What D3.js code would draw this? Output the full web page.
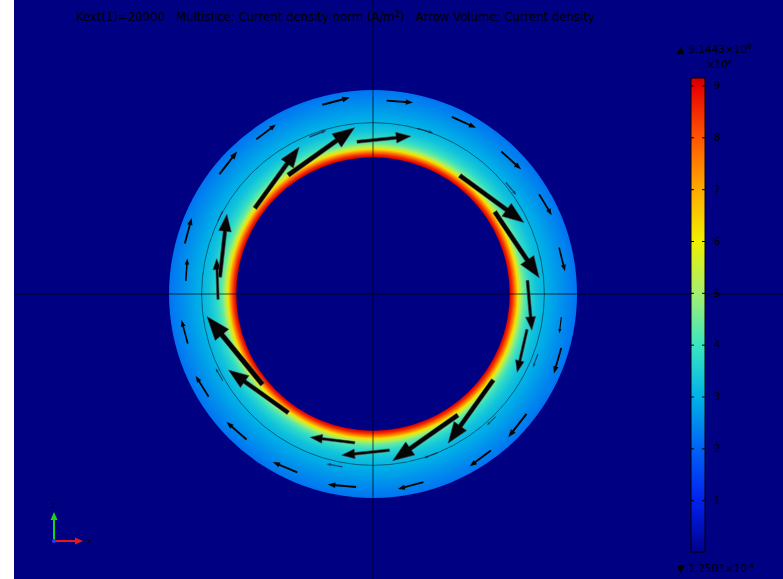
<!DOCTYPE html>
<html lang="en">
<head>
<meta charset="UTF-8">
<title>Current density</title>
<style>
  body { margin: 0; background: #fff; }
  svg text { font-family: "DejaVu Sans", "Liberation Sans", sans-serif; fill: #000; white-space: pre; }
</style>
</head>
<body>
<div id="chart"></div>
<script src="https://cdnjs.cloudflare.com/ajax/libs/d3/7.8.5/d3.min.js"></script>
<script>
// colour table, |J| in units of 1e8 A/m^2
const colorValues = [0, 1, 2, 3, 4, 5, 6, 7, 8, 9, 9.1443];
const colorStops = ["#00008c", "#0022f0", "#0064f5", "#00b4e6", "#3ce6c0", "#a5f06e", "#f0f000", "#ffaa00", "#ff5500", "#e60000", "#c80000"];
const colorTicks = [1, 2, 3, 4, 5, 6, 7, 8, 9];

// |J| across the tube wall (0 = inner wall, 1 = outer wall)
const wallPos = [0, 0.04, 0.08, 0.12, 0.16, 0.21, 0.28, 0.4, 0.55, 0.75, 1];
const wallJ   = [9.1, 8.5, 7.5, 6.2, 5.2, 4.4, 3.8, 3.3, 2.95, 2.6, 2.2];

// geometry (mm)
const rInner = 6.7, rOuter = 10, rMid = 8.4;

// big arrows: tail angle (deg), tail radius (mm), length (mm)
const bigAngle  = [144, 125.5, 96, 53.8, 34, 5, -13, -35.6, -55, -84, -97, -125.5, -140.7, -178, 173.7];
const bigRadius = [7.16, 7.16, 7.5, 7.2, 7.2, 7.6, 7.75, 7.25, 7.25, 7.7, 7.35, 7.15, 7.0, 7.6, 7.55];
const bigLength = [3.7, 4.0, 2.65, 3.9, 3.9, 2.45, 2.15, 3.8, 3.9, 2.35, 2.2, 3.6, 4.3, 2.0, 3.1];

// small arrows near the outer wall
const outAngle  = [105, 86, 66, 48, 31, 14, -7, -16, -38, -53, -75, -95, -113, -131, -148, -165, 176, 165, 142, 127];
const outRadius = [9.6, 9.5, 9.5, 9.4, 9.5, 9.4, 9.3, 9.6, 9.55, 9.6, 9.55, 9.5, 9.5, 9.45, 9.5, 9.4, 9.2, 9.55, 9.55, 9.5];
const outLength = [1.4, 1.3, 1.3, 1.3, 1.2, 1.2, 0.8, 1.3, 1.45, 1.3, 1.3, 1.4, 1.3, 1.3, 1.2, 1.2, 1.1, 1.3, 1.4, 1.2];

// faint arrows around the middle circle
const midAngle  = [112, 75, 40, -20, -45, -68, -100, -150, 155];
const midRadius = [8.3, 8.4, 8.5, 8.6, 8.5, 8.4, 8.6, 8.5, 8.4];
const midLength = [0.9, 0.8, 0.8, 0.7, 0.6, 0.7, 0.8, 0.7, 0.6];

const width = 783, height = 579;
const cx = 373, cy = 294, pxR = 204;

const svg = d3.select("#chart").append("svg")
    .attr("width", width)
    .attr("height", height);

svg.append("rect")
    .attr("x", 14).attr("y", 0)
    .attr("width", width - 14).attr("height", height)
    .attr("fill", "#000082");

const x = d3.scaleLinear().domain([-rOuter, rOuter]).range([cx - pxR, cx + pxR]);
const y = d3.scaleLinear().domain([-rOuter, rOuter]).range([cy + pxR, cy - pxR]);
const color = d3.scaleLinear().domain(colorValues).range(colorStops);

const defs = svg.append("defs");

// radial field in the wall (gradient lives in the translated ring group)
const rg = defs.append("radialGradient")
    .attr("id", "wall")
    .attr("gradientUnits", "userSpaceOnUse")
    .attr("cx", 0).attr("cy", 0)
    .attr("r", x(rOuter) - x(0));
rg.selectAll("stop")
    .data(wallPos)
  .enter().append("stop")
    .attr("offset", (d) => (rInner + d * (rOuter - rInner)) / rOuter)
    .attr("stop-color", (d, i) => color(wallJ[i]));

const arc = d3.arc()
    .innerRadius(x(rInner) - x(0))
    .outerRadius(x(rOuter) - x(0))
    .startAngle(0).endAngle(2 * Math.PI);

svg.append("path")
    .attr("transform", `translate(${x(0)},${y(0)})`)
    .attr("d", arc())
    .attr("fill", "url(#wall)");

// middle circle
svg.append("circle")
    .attr("cx", x(0)).attr("cy", y(0))
    .attr("r", x(rMid) - x(0))
    .attr("fill", "none")
    .attr("stroke", "#000")
    .attr("stroke-opacity", 0.6)
    .attr("stroke-width", 0.8);

// cross lines
svg.append("line")
    .attr("x1", 14).attr("x2", width)
    .attr("y1", y(0)).attr("y2", y(0))
    .attr("stroke", "#000").attr("stroke-opacity", 0.7).attr("stroke-width", 1);
svg.append("line")
    .attr("x1", x(0)).attr("x2", x(0))
    .attr("y1", 0).attr("y2", height)
    .attr("stroke", "#000").attr("stroke-opacity", 0.7).attr("stroke-width", 1);

// arrow outline, tail at (r, angle), pointing clockwise along the tangent
function arrowPath(angle, r, len, shaft) {
  const a = angle * Math.PI / 180;
  const px = r * Math.cos(a), py = r * Math.sin(a);
  const ux = Math.sin(a), uy = -Math.cos(a);
  const nx = -uy, ny = ux;
  const w = shaft * len, h = 0.27 * len, hw = 0.1 * len;
  const b = len - h;
  const pts = [
    [px + nx * w, py + ny * w],
    [px + ux * b + nx * w, py + uy * b + ny * w],
    [px + ux * b + nx * hw, py + uy * b + ny * hw],
    [px + ux * len, py + uy * len],
    [px + ux * b - nx * hw, py + uy * b - ny * hw],
    [px + ux * b - nx * w, py + uy * b - ny * w],
    [px - nx * w, py - ny * w]
  ];
  return d3.line().x((p) => x(p[0])).y((p) => y(p[1]))(pts) + "Z";
}

svg.append("g").selectAll("path")
    .data(midAngle)
  .enter().append("path")
    .attr("d", (d, i) => arrowPath(d, midRadius[i], midLength[i], 0.04))
    .attr("fill", "#1a1a3a")
    .attr("fill-opacity", 0.7);

svg.append("g").selectAll("path")
    .data(outAngle)
  .enter().append("path")
    .attr("d", (d, i) => arrowPath(d, outRadius[i], outLength[i], 0.035))
    .attr("fill", "#050505");

svg.append("g").selectAll("path")
    .data(bigAngle)
  .enter().append("path")
    .attr("d", (d, i) => arrowPath(d, bigRadius[i], bigLength[i], 0.028))
    .attr("fill", "#050505")
    .attr("stroke", "#444")
    .attr("stroke-width", 0.6);

// title
const title = svg.append("text")
    .attr("x", 76).attr("y", 21)
    .style("font-size", "11.7px");
title.append("tspan").text("Kext(1)=20000   Multislice: Current density norm (A/m");
title.append("tspan").attr("dy", -4).style("font-size", "8px").text("2");
title.append("tspan").attr("dy", 4).text(")   Arrow Volume: Current density");

// colour bar
const cbX = 691, cbW = 14;
const cy0 = d3.scaleLinear().domain([0, 9.1443]).range([552, 78]);

const lg = defs.append("linearGradient")
    .attr("id", "cbar")
    .attr("x1", 0).attr("y1", 1).attr("x2", 0).attr("y2", 0);
lg.selectAll("stop")
    .data(colorValues)
  .enter().append("stop")
    .attr("offset", (d) => d / 9.1443)
    .attr("stop-color", (d, i) => colorStops[i]);

svg.append("rect")
    .attr("x", cbX).attr("y", cy0(9.1443))
    .attr("width", cbW).attr("height", cy0(0) - cy0(9.1443))
    .attr("fill", "url(#cbar)")
    .attr("stroke", "#000").attr("stroke-width", 1);

const axR = svg.append("g")
    .attr("transform", `translate(${cbX + cbW},0)`)
    .call(d3.axisRight(cy0).tickValues(colorTicks).tickSizeInner(-3).tickSizeOuter(0).tickPadding(9).tickFormat(d3.format("d")));
axR.select(".domain").remove();
axR.selectAll("line").attr("stroke", "#000");
axR.selectAll("text").style("font-size", "10px").attr("fill", "#000");

const axL = svg.append("g")
    .attr("transform", `translate(${cbX},0)`)
    .call(d3.axisLeft(cy0).tickValues(colorTicks).tickSizeInner(-3).tickSizeOuter(0).tickFormat(""));
axL.select(".domain").remove();
axL.selectAll("line").attr("stroke", "#000");

const maxLabel = svg.append("text").attr("x", 677).attr("y", 53).style("font-size", "10.5px");
maxLabel.append("tspan").text("\u25B2 9.1443\u00D710");
maxLabel.append("tspan").attr("dy", -4).style("font-size", "7px").text("8");

const unitLabel = svg.append("text").attr("x", 706).attr("y", 68).style("font-size", "10.5px");
unitLabel.append("tspan").text("\u00D710");
unitLabel.append("tspan").attr("dy", -4).style("font-size", "7px").text("8");

const minLabel = svg.append("text").attr("x", 677).attr("y", 572).style("font-size", "10.5px");
minLabel.append("tspan").text("\u25BC 1.2501\u00D710");
minLabel.append("tspan").attr("dy", -4).style("font-size", "7px").text("-4");

// axis triad
const triad = svg.append("g").attr("transform", "translate(54,541)");
triad.append("line").attr("x1", 0).attr("y1", 0).attr("x2", 0).attr("y2", -22)
    .attr("stroke", "#19d219").attr("stroke-width", 2);
triad.append("path").attr("d", "M-3.5,-21L0,-29L3.5,-21Z").attr("fill", "#19d219");
triad.append("line").attr("x1", 0).attr("y1", 0).attr("x2", 22).attr("y2", 0)
    .attr("stroke", "#e61919").attr("stroke-width", 2);
triad.append("path").attr("d", "M21,-3.5L29,0L21,3.5Z").attr("fill", "#e61919");
triad.append("circle").attr("r", 2).attr("fill", "#1e3cff");
triad.append("text").attr("x", -3).attr("y", -33).style("font-size", "8px").text("z");
triad.append("text").attr("x", 33).attr("y", 3).style("font-size", "8px").text("x");
</script>
</body>
</html>
